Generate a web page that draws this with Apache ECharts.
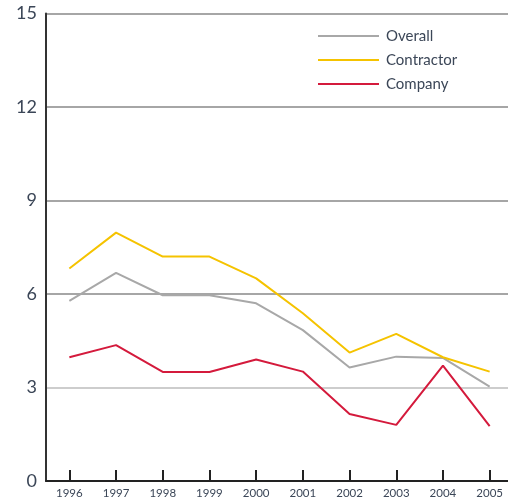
<!DOCTYPE html>
<html>
<head>
<meta charset="utf-8">
<script src="https://cdn.jsdelivr.net/npm/echarts@6/dist/echarts.min.js"></script>
<style>
  html, body { margin: 0; padding: 0; background: #fff; overflow: hidden; }
  #chart { width: 513px; height: 499px; }
</style>
</head>
<body>
<div id="chart"></div>
<script>
// años (eje x)
var years = ['1996', '1997', '1998', '1999', '2000', '2001', '2002', '2003', '2004', '2005'];

// series
var overall    = [5.78, 6.68, 5.96, 5.96, 5.70, 4.84, 3.64, 3.99, 3.95, 3.03];
var contractor = [6.82, 7.97, 7.20, 7.20, 6.50, 5.38, 4.12, 4.72, 3.97, 3.51];
var company    = [3.97, 4.36, 3.50, 3.50, 3.90, 3.51, 2.15, 1.80, 3.70, 1.76];

var seriesNames = ['Overall', 'Contractor', 'Company'];
var seriesColors = ['#a8a8a8', '#f5c300', '#d41a3c'];
var seriesData = [overall, contractor, company];

var textColor = '#3b4657';
var fontName = 'Lato';

const getOption = () => {
    var series = [];
    for (var i = 0; i < seriesNames.length; i++) {
        series.push({
            name: seriesNames[i],
            type: 'line',
            data: seriesData[i],
            symbol: 'none',
            lineStyle: { color: seriesColors[i], width: 2 },
            itemStyle: { color: seriesColors[i] },
            z: 3 + i
        });
    }

    return {
        animation: false,
        textStyle: { fontFamily: fontName },
        // el área del gráfico se sale un poco por la derecha, como en el original
        grid: {
            left: 46,
            right: 0,
            top: 13.5,
            bottom: 18
        },
        legend: {
            orient: 'vertical',
            left: 313,
            top: 22,
            itemWidth: 61,
            itemHeight: 2,
            itemGap: 6,
            icon: 'rect',
            textStyle: { color: textColor, fontSize: 15, lineHeight: 18, fontFamily: fontName, padding: [0, 0, 0, 2] },
            data: seriesNames
        },
        xAxis: {
            type: 'category',
            data: years,
            boundaryGap: true,
            axisLine: { lineStyle: { color: '#222', width: 2 } },
            axisTick: { show: true, inside: true, length: 11, alignWithLabel: true, lineStyle: { color: '#222', width: 2 } },
            axisLabel: { color: textColor, fontSize: 11.5, margin: 6 },
            splitLine: { show: false }
        },
        yAxis: {
            type: 'value',
            min: 0,
            max: 15,
            interval: 3,
            axisLine: { show: true, lineStyle: { color: '#333', width: 2 } },
            axisTick: { show: false },
            axisLabel: { color: textColor, fontSize: 18, margin: 9 },
            splitLine: {
                show: true,
                lineStyle: { color: ['#888', '#bdbdbd', '#888', '#888', '#888', '#888'], width: 1.5 }
            }
        },
        series: series
    };
};

var chart = echarts.init(document.getElementById('chart'));
chart.setOption(getOption());
</script>
</body>
</html>
